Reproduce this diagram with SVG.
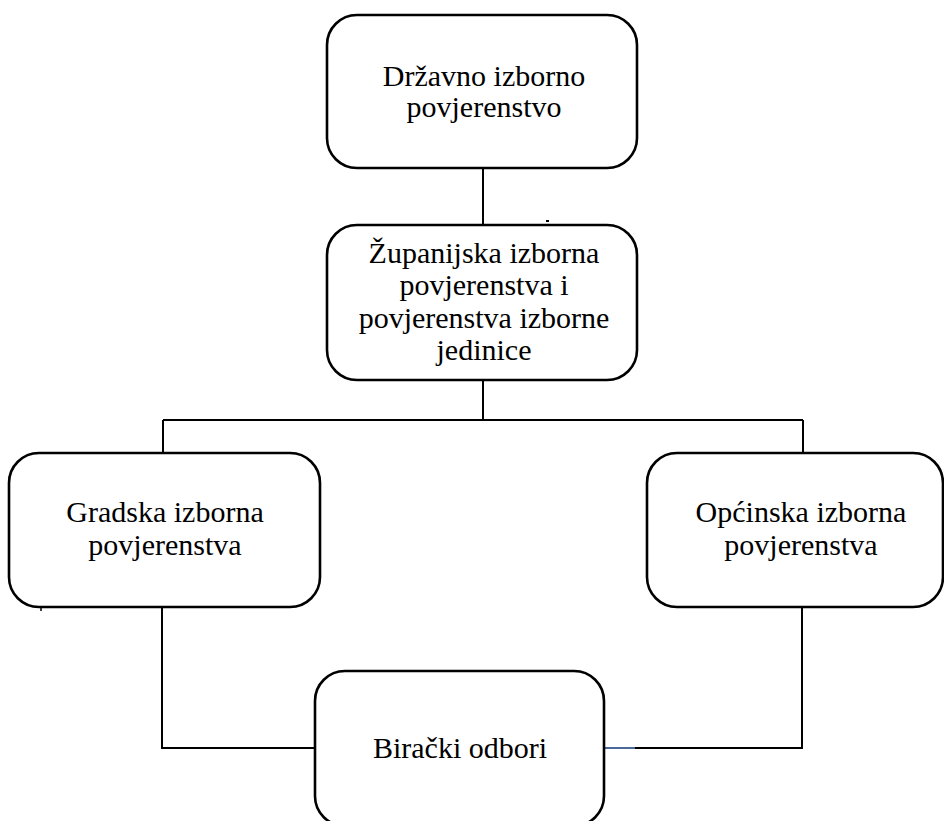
<svg xmlns="http://www.w3.org/2000/svg" width="944" height="821" viewBox="0 0 944 821">
<style>
.box{fill:#fff;stroke:#000;stroke-width:2.6}
.ln{fill:none;stroke:#000;stroke-width:2}
</style>
<rect width="944" height="821" fill="#fff"/>
<g id="connectors">
<path class="ln" d="M483 168V225" stroke-width="1.5"/>
<path class="ln" d="M483 380V420M163 420H803M163 420V453M803 420V453"/>
<path class="ln" d="M162 607V748H315"/>
<path class="ln" d="M802 607V748H635"/>
<path d="M604 748H635" stroke="#4a6a9a" stroke-width="2"/>
<path d="M546 221H549" stroke="#000" stroke-width="2"/>
<path d="M41 607V611" stroke="#000" stroke-width="1.5"/>
</g>
<g font-family="Liberation Serif, DejaVu Serif, serif" font-size="30" text-anchor="middle" fill="#000">
<g id="n1"><rect class="box" x="327" y="15" width="310" height="153" rx="30"/>
<text x="484" y="86">Državno izborno</text><text x="484" y="117">povjerenstvo</text></g>
<g id="n2"><rect class="box" x="327" y="225" width="310" height="155" rx="30"/>
<text x="484" y="263">Županijska izborna</text><text x="484" y="295">povjerenstva i</text><text x="484" y="328">povjerenstva izborne</text><text x="484" y="360">jedinice</text></g>
<g id="n3"><rect class="box" x="9" y="453" width="311" height="154" rx="30"/>
<text x="165" y="522">Gradska izborna</text><text x="165" y="555">povjerenstva</text></g>
<g id="n4"><rect class="box" x="647" y="453" width="296" height="154" rx="30"/>
<text x="801" y="522">Općinska izborna</text><text x="801" y="555">povjerenstva</text></g>
<g id="n5"><rect class="box" x="315" y="671" width="289" height="155" rx="30"/>
<text x="460" y="758">Birački odbori</text></g>
</g>
</svg>
